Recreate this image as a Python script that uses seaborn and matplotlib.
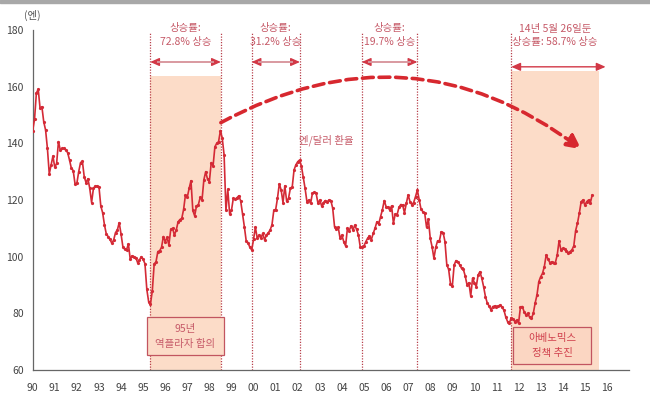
import numpy as np
import pandas as pd
import matplotlib
matplotlib.use("Agg")
import matplotlib.pyplot as plt
import seaborn as sns
from matplotlib.patches import Rectangle

# ---- data: month-end JPY per USD (Jan 1990 .. May 2015)
rate_1990 = [144.5, 148.5, 157.7, 159.1, 152.4, 152.9, 147.6, 144.7, 138.2, 129.2, 132.4, 135.5]
rate_1991 = [131.5, 132.9, 140.6, 137.6, 138.2, 138.2, 137.6, 136.7, 134.1, 131.2, 130.4, 125.7]
rate_1992 = [125.9, 130.0, 133.2, 133.6, 128.2, 126.1, 127.5, 124.1, 119.1, 124.1, 124.9, 124.9]
rate_1993 = [124.7, 117.9, 115.5, 111.2, 108.0, 107.1, 106.1, 104.7, 105.9, 108.5, 109.4, 112.0]
rate_1994 = [108.0, 103.5, 102.6, 102.4, 104.5, 99.1, 100.3, 100.0, 99.7, 97.9, 98.8, 100.0]
rate_1995 = [99.1, 97.5, 88.5, 84.1, 83.3, 88.0, 97.4, 98.2, 101.8, 102.1, 103.3, 107.1]
rate_1996 = [105.3, 106.8, 104.1, 109.6, 110.0, 107.6, 109.4, 112.3, 113.1, 113.5, 116.7, 121.8]
rate_1997 = [121.0, 124.1, 126.8, 116.3, 114.4, 117.9, 118.3, 120.9, 120.0, 127.1, 130.0, 127.3]
rate_1998 = [126.5, 133.2, 132.0, 138.8, 140.0, 140.6, 144.5, 141.8, 135.9, 116.3, 123.8, 115.1]
rate_1999 = [116.3, 120.6, 120.3, 120.8, 121.5, 119.7, 115.1, 110.6, 105.6, 104.9, 103.3, 102.4]
rate_2000 = [106.1, 110.4, 106.5, 107.6, 106.5, 108.2, 105.9, 107.6, 108.4, 109.4, 111.2, 116.3]
rate_2001 = [116.5, 120.6, 125.7, 123.5, 119.1, 125.0, 119.5, 120.6, 124.1, 124.5, 130.6, 132.4]
rate_2002 = [133.5, 134.1, 132.0, 128.0, 124.1, 119.4, 120.0, 118.8, 122.4, 122.7, 122.4, 118.8]
rate_2003 = [120.0, 117.9, 119.1, 119.8, 119.4, 120.0, 119.8, 117.1, 110.6, 109.6, 110.4, 106.5]
rate_2004 = [107.6, 105.3, 103.8, 110.0, 109.2, 110.9, 109.4, 111.1, 109.6, 107.6, 103.3, 103.5]
rate_2005 = [103.8, 105.3, 106.5, 107.3, 106.0, 108.2, 110.0, 112.3, 111.5, 114.1, 116.5, 119.8]
rate_2006 = [117.7, 117.4, 116.5, 117.9, 111.8, 115.1, 114.8, 117.4, 118.4, 118.2, 115.5, 118.8]
rate_2007 = [121.8, 119.4, 118.4, 119.1, 121.2, 123.5, 120.0, 116.7, 115.9, 115.3, 110.4, 113.2]
rate_2008 = [106.5, 103.5, 99.4, 103.3, 105.6, 105.6, 108.8, 108.5, 105.3, 97.1, 95.5, 90.4]
rate_2009 = [89.6, 97.1, 98.6, 98.2, 97.1, 95.9, 95.5, 93.2, 90.0, 90.8, 86.1, 92.4]
rate_2010 = [90.8, 89.4, 93.5, 94.7, 92.4, 89.4, 85.9, 83.6, 82.6, 81.2, 82.4, 82.6]
rate_2011 = [82.4, 82.6, 82.9, 82.1, 81.2, 78.8, 77.1, 76.5, 78.5, 77.9, 77.1, 77.6]
rate_2012 = [76.5, 82.2, 82.4, 80.6, 79.4, 80.0, 78.6, 78.2, 80.0, 83.6, 86.5, 91.2]
rate_2013 = [92.9, 94.1, 96.5, 100.6, 99.1, 97.9, 98.2, 97.9, 97.9, 100.6, 105.6, 102.4]
rate_2014 = [102.9, 102.6, 102.1, 101.4, 101.8, 102.4, 103.8, 109.2, 111.8, 115.3, 119.4, 120.0]
rate_2015 = [118.2, 119.4, 120.0, 119.0, 121.8]

yearly = [rate_1990, rate_1991, rate_1992, rate_1993, rate_1994, rate_1995, rate_1996,
          rate_1997, rate_1998, rate_1999, rate_2000, rate_2001, rate_2002, rate_2003,
          rate_2004, rate_2005, rate_2006, rate_2007, rate_2008, rate_2009, rate_2010,
          rate_2011, rate_2012, rate_2013, rate_2014, rate_2015]
start_year = 1990

tick_years = list(range(1990, 2017))
tick_labels = [f"{y % 100:02d}" for y in tick_years]
y_ticks = [60, 80, 100, 120, 140, 160, 180]

# rally periods (start, end, label)
rallies = [(1995.32, 1998.52, "상승률:\n72.8% 상승"),
           (1999.91, 2002.10, "상승률:\n31.2% 상승"),
           (2004.90, 2007.42, "상승률:\n19.7% 상승")]
abe_start, abe_end = 2011.67, 2015.94
abe_label = "14년 5월 26일둔\n상승률: 58.7% 상승"

rows = []
for i, vals in enumerate(yearly):
    for m, v in enumerate(vals):
        rows.append({"t": start_year + i + m / 12.0, "rate": v})
df = pd.DataFrame(rows)

# ---- style
sns.set_theme(style="white")
plt.rcParams["font.family"] = ["Noto Sans CJK KR", "DejaVu Sans"]

LINE = "#d42a36"
TXT = "#c65a68"
SHADE = "#fcdcc8"
VL = "#b8404c"

fig = plt.figure(figsize=(6.5, 3.94), dpi=100)
ax = fig.add_axes([0.0503, 0.0609, 0.9174, 0.8630])

# top grey band
fig.patches.append(Rectangle((0, 1 - 3 / 394), 1, 3 / 394, transform=fig.transFigure,
                             color="#a8a8a8", zorder=0))

# shaded regions
ax.fill_between([1995.32, 1998.52], 60, 163.8, color=SHADE, lw=0, zorder=0)
ax.fill_between([2011.67, 2015.64], 60, 165.6, color=SHADE, lw=0, zorder=0)

# vertical dotted lines
for x in [1995.32, 1998.52, 1999.91, 2002.10, 2004.90, 2007.42, 2011.67]:
    ax.vlines(x, 60, 179, colors=VL, linestyles=(0, (1, 1.2)), lw=0.9, zorder=1)

# main line
sns.lineplot(data=df, x="t", y="rate", ax=ax, color=LINE, lw=1.2, marker="o",
             markersize=2.3, markeredgewidth=0, estimator=None, sort=False, zorder=3)

# double arrows + rally labels
def double_arrow(x0, x1, y, shaft):
    ax.annotate("", xy=(x1, y), xytext=(x0, y),
                arrowprops=dict(arrowstyle="<|-|>,head_length=0.45,head_width=0.2",
                                color="#d23846", lw=1.0, shrinkA=0, shrinkB=0), zorder=4)
    if shaft is not None:
        ax.plot([x0 + 0.3, x1 - 0.3], [y, y], color=shaft, lw=1.2, zorder=5,
                solid_capstyle="butt")

for x0, x1, lab in rallies:
    double_arrow(x0, x1, 168.7, "#d9a3aa")
    ax.text((x0 + x1) / 2, 178.3, lab, ha="center", va="center", fontsize=7.5,
            color=TXT, linespacing=1.45, zorder=6)
double_arrow(abe_start, abe_end, 167.0, None)
ax.text((abe_start + abe_end) / 2 - 0.15, 178.0, abe_label, ha="center", va="center",
        fontsize=7.5, color=TXT, linespacing=1.35, zorder=6)

# big dashed curved arrow
ax.annotate("", xy=(2014.84, 137.9), xytext=(1998.52, 147.3),
            arrowprops=dict(arrowstyle="-|>,head_length=0.7,head_width=0.35",
                            connectionstyle="arc3,rad=-0.32", color="#d7282f",
                            lw=2.6, linestyle=(0, (3.0, 1.6)), shrinkA=0, shrinkB=0),
            zorder=4)

# series label
ax.text(2003.3, 141.2, "엔/달러 환율", ha="center", va="center", fontsize=7.5,
        color=TXT, zorder=6)

# text boxes
ax.add_patch(Rectangle((1995.16, 65.3), 3.51, 13.3, facecolor=SHADE, edgecolor="#c25560",
                       lw=0.9, zorder=4))
ax.text(1996.91, 71.95, "95년\n역플라자 합의", ha="center", va="center", fontsize=7.5,
        color=TXT, linespacing=1.6, zorder=6)
ax.add_patch(Rectangle((2011.74, 62.1), 3.55, 13.0, facecolor="#fbd6c2", edgecolor="#c25560",
                       lw=0.9, zorder=4))
ax.text(2013.52, 68.6, "아베노믹스\n정책 추진", ha="center", va="center", fontsize=7.5,
        color="#d0404c", linespacing=1.6, zorder=6)

# unit label
ax.text(1990.0, 185.0, "(엔)", ha="center", va="center", fontsize=7.5, color="#555555",
        clip_on=False)

# axes
ax.set_xlim(1990, 2017)
ax.set_ylim(60, 180)
ax.set_xticks(tick_years)
ax.set_xticklabels(tick_labels)
ax.set_yticks(y_ticks)
ax.set_xlabel("")
ax.set_ylabel("")
for s in ["top", "right"]:
    ax.spines[s].set_visible(False)
for s in ["left", "bottom"]:
    ax.spines[s].set_color("#666666")
    ax.spines[s].set_linewidth(0.9)
ax.tick_params(axis="both", direction="out", length=3.5, width=0.8, color="#666666",
               labelsize=7.5, labelcolor="#444444", pad=3)
ax.tick_params(axis="x", pad=6)
ax.set_facecolor("white")
ax.patch.set_alpha(0)

fig.savefig("out.png", dpi=100)
